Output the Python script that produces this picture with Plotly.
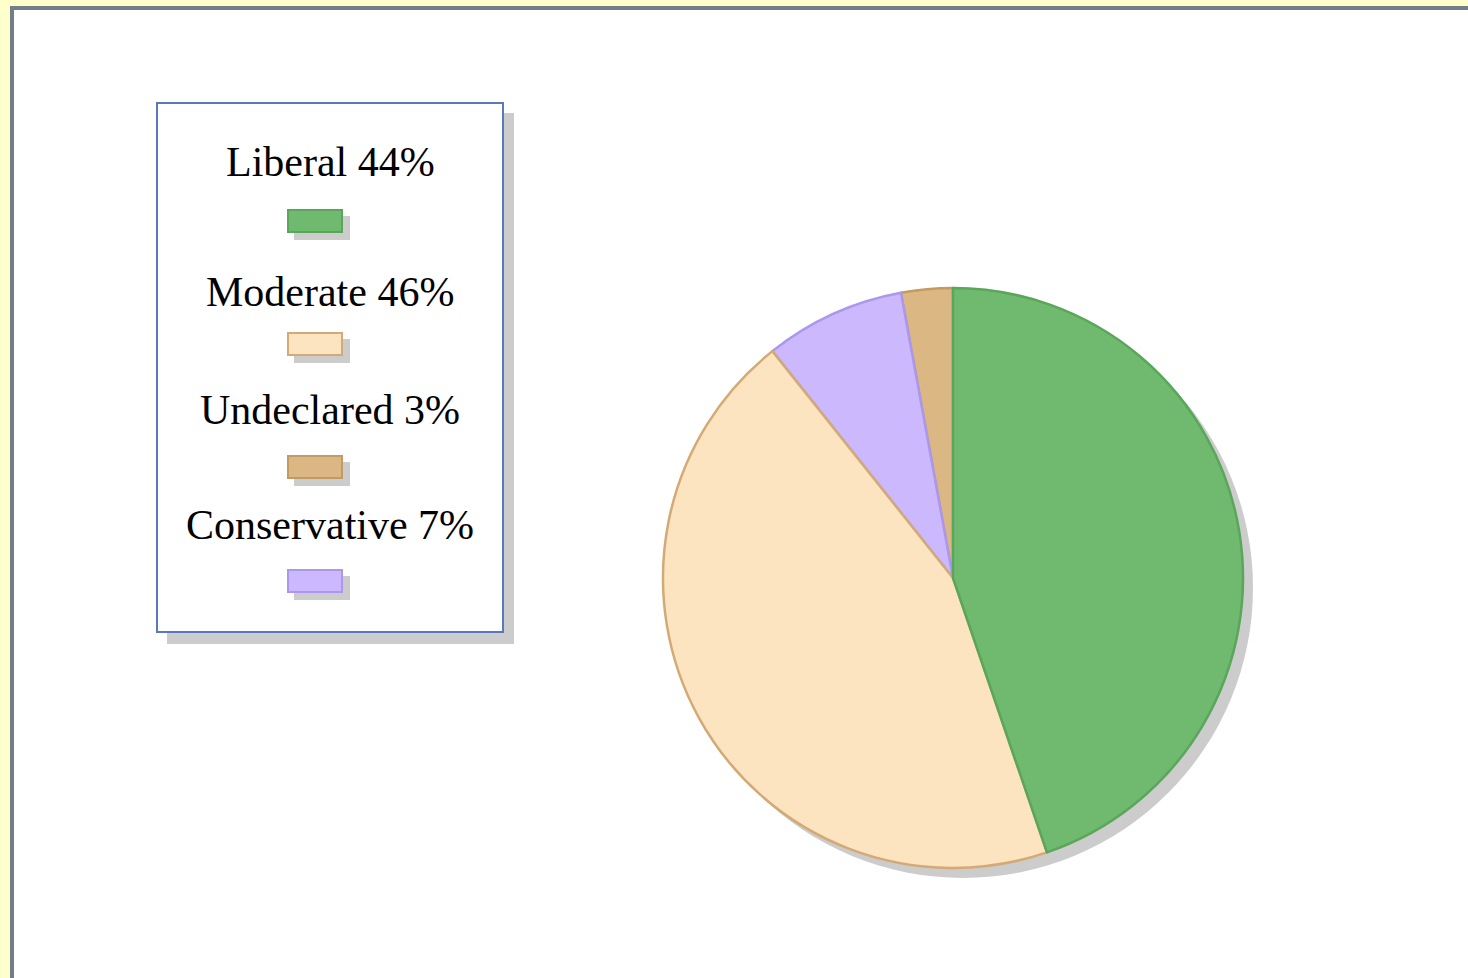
import plotly.graph_objects as go

W, H = 1468, 978

# ---- data ----
# slice sizes as drawn in the picture (percent of the circle)
pie_labels = ["Undeclared", "Conservative", "Moderate", "Liberal"]
pie_values = [2.87, 7.83, 44.55, 44.75]
pie_fill = ["#dbb883", "#cbb8fd", "#fce4c0", "#6fba6f"]
pie_line = ["#c49a63", "#ac97ee", "#d3aa75", "#5aa65a"]

# legend entries as printed
legend_labels = ["Liberal", "Moderate", "Undeclared", "Conservative"]
legend_values = [44, 46, 3, 7]


def px(x):
    return x / W


def py(y):
    return 1 - y / H


fig = go.Figure()

# pie geometry (pixels)
cx, cy, r = 953, 578, 290
sh = 10

# shadow pie
fig.add_trace(go.Pie(
    values=[1], labels=["shadow"], marker=dict(colors=["#cccccc"], line=dict(width=0)),
    textinfo="none", hoverinfo="skip", showlegend=False, sort=False,
    domain=dict(x=[px(cx - r + sh), px(cx + r + sh)], y=[py(cy + r + sh), py(cy - r + sh)]),
))

# Liberal should start at 12 o'clock going clockwise
start_rot = -pie_values[0] / sum(pie_values) * 360
fig.add_trace(go.Pie(
    labels=pie_labels, values=pie_values,
    marker=dict(colors=pie_fill, line=dict(color=pie_line, width=2.5)),
    sort=False, direction="counterclockwise", rotation=start_rot,
    textinfo="none", hoverinfo="label", showlegend=False,
    domain=dict(x=[px(cx - r), px(cx + r)], y=[py(cy + r), py(cy - r)]),
))

shapes = []
# page
shapes.append(dict(type="rect", xref="paper", yref="paper",
                   x0=px(12), x1=px(W + 20), y0=py(H + 20), y1=py(8),
                   fillcolor="white", line=dict(color="#737f88", width=4), layer="below"))

# legend box shadow + box
bx0, bx1, by0, by1 = 157, 503, 103, 632
shapes.append(dict(type="rect", xref="paper", yref="paper",
                   x0=px(bx0 + 10), x1=px(bx1 + 11), y0=py(by1 + 12), y1=py(by0 + 10),
                   fillcolor="#cccccc", line=dict(width=0), layer="below"))
shapes.append(dict(type="rect", xref="paper", yref="paper",
                   x0=px(bx0), x1=px(bx1), y0=py(by1), y1=py(by0),
                   fillcolor="white", line=dict(color="#5b77bd", width=2), layer="below"))

annotations = []
text_y = [162, 292, 410, 525]
sw_y = [209, 332, 455, 569]
color_map = dict(zip(pie_labels, zip(pie_fill, pie_line)))
for lab, val, ty, sy in zip(legend_labels, legend_values, text_y, sw_y):
    f, l = color_map[lab]
    shapes.append(dict(type="rect", xref="paper", yref="paper",
                       x0=px(294), x1=px(350), y0=py(sy + 31), y1=py(sy + 7),
                       fillcolor="#cccccc", line=dict(width=0), layer="below"))
    shapes.append(dict(type="rect", xref="paper", yref="paper",
                       x0=px(288), x1=px(342), y0=py(sy + 23), y1=py(sy + 1),
                       fillcolor=f, line=dict(color=l, width=2), layer="below"))
    annotations.append(dict(xref="paper", yref="paper", x=px(330), y=py(ty),
                            xanchor="center", yanchor="middle", showarrow=False,
                            text=f"{lab} {val}%",
                            font=dict(family="Liberation Serif, Times New Roman, serif",
                                      size=42, color="black")))

fig.update_layout(
    width=W, height=H, margin=dict(l=0, r=0, t=0, b=0),
    paper_bgcolor="#ffffcc", plot_bgcolor="#ffffcc",
    shapes=shapes, annotations=annotations, showlegend=False,
)

fig.write_html("out.html", config={"displayModeBar": False},
               post_script="document.body.style.margin='0';document.body.style.overflow='hidden';")
